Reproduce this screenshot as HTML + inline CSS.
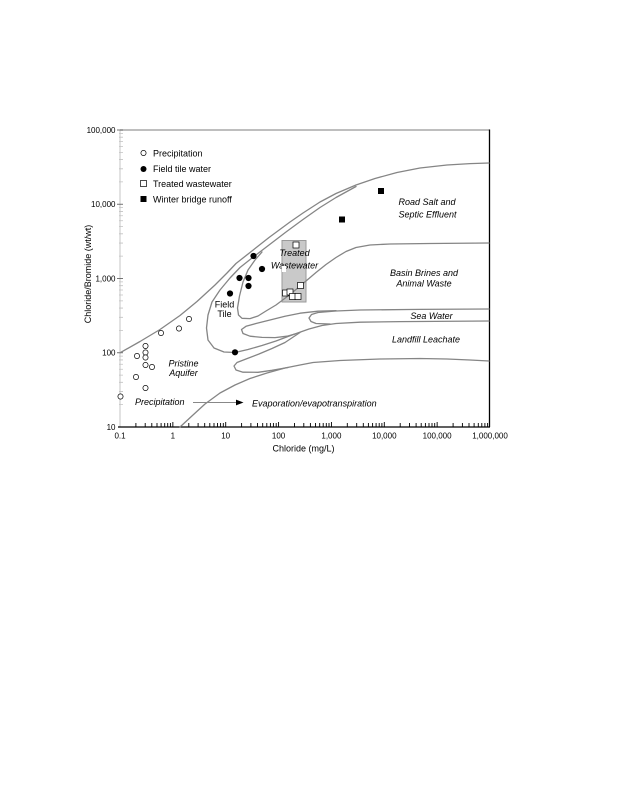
<!DOCTYPE html>
<html><head><meta charset="utf-8"><style>
html,body{margin:0;padding:0;background:#fff;}
svg{display:block;}
text{font-family:"Liberation Sans",Arial,sans-serif;fill:#000;}
.it{font-style:italic;}
</style></head><body>
<svg width="617" height="800" viewBox="0 0 617 800" xmlns="http://www.w3.org/2000/svg">
<rect width="617" height="800" fill="#fff"/>
<!-- frame -->
<line x1="120" y1="130" x2="489.5" y2="130" stroke="#a8a8a8" stroke-width="1.6"/>
<line x1="489.5" y1="129.5" x2="489.5" y2="427" stroke="#000" stroke-width="1.3"/>
<line x1="120" y1="130" x2="120" y2="427" stroke="#c4c4c4" stroke-width="1"/>
<line x1="118" y1="427" x2="490" y2="427" stroke="#000" stroke-width="1.3"/>
<!-- left ticks -->
<g stroke="#666" stroke-width="0.9">
<line x1="117" y1="130" x2="123" y2="130"/><line x1="117" y1="204.25" x2="123" y2="204.25"/><line x1="117" y1="278.5" x2="123" y2="278.5"/><line x1="117" y1="352.75" x2="123" y2="352.75"/>
</g>
<g stroke="#c2c2c2" stroke-width="0.8">
<path d="M119 404.65h4M119 391.57h4M119 382.3h4M119 375.1h4M119 369.22h4M119 364.25h4M119 359.95h4M119 356.15h4
M119 330.4h4M119 317.32h4M119 308.05h4M119 300.85h4M119 294.97h4M119 290h4M119 285.7h4M119 281.9h4
M119 256.15h4M119 243.07h4M119 233.8h4M119 226.6h4M119 220.72h4M119 215.75h4M119 211.45h4M119 207.65h4
M119 181.9h4M119 168.82h4M119 159.55h4M119 152.35h4M119 146.47h4M119 141.5h4M119 137.2h4M119 133.4h4"/>
</g>
<!-- bottom ticks -->
<g stroke="#000" stroke-width="0.9">
<path d="M172.86 427v-5M225.71 427v-5M278.57 427v-5M331.43 427v-5M384.29 427v-5M437.14 427v-5"/>
<path d="M135.9 427v-4M145.2 427v-4M151.8 427v-4M157 427v-4M161.1 427v-4M164.7 427v-4M167.7 427v-4M170.4 427v-4
M188.8 427v-4M198.1 427v-4M204.7 427v-4M209.8 427v-4M214 427v-4M217.5 427v-4M220.6 427v-4M223.3 427v-4
M241.6 427v-4M250.9 427v-4M257.5 427v-4M262.7 427v-4M266.8 427v-4M270.4 427v-4M273.4 427v-4M276.2 427v-4
M294.5 427v-4M303.8 427v-4M310.4 427v-4M315.5 427v-4M319.7 427v-4M323.2 427v-4M326.3 427v-4M329 427v-4
M347.3 427v-4M356.7 427v-4M363.3 427v-4M368.4 427v-4M372.6 427v-4M376.1 427v-4M379.2 427v-4M381.9 427v-4
M400.2 427v-4M409.5 427v-4M416.1 427v-4M421.2 427v-4M425.4 427v-4M429 427v-4M432 427v-4M434.7 427v-4
M453.1 427v-4M462.4 427v-4M469 427v-4M474.1 427v-4M478.3 427v-4M481.8 427v-4M484.9 427v-4M487.6 427v-4"/>
</g>
<!-- y tick labels -->
<g font-size="8" text-anchor="end">
<text x="115.5" y="133">100,000</text>
<text x="115.5" y="207.2">10,000</text>
<text x="115.5" y="281.4">1,000</text>
<text x="115.5" y="355.7">100</text>
<text x="115.5" y="430">10</text>
</g>
<!-- x tick labels -->
<g font-size="8" text-anchor="middle">
<text x="120" y="438.5">0.1</text>
<text x="172.9" y="438.5">1</text>
<text x="225.7" y="438.5">10</text>
<text x="278.6" y="438.5">100</text>
<text x="331.4" y="438.5">1,000</text>
<text x="384.3" y="438.5">10,000</text>
<text x="437.1" y="438.5">100,000</text>
<text x="490" y="438.5">1,000,000</text>
</g>
<text x="303.5" y="451.6" font-size="9" text-anchor="middle">Chloride (mg/L)</text>
<text transform="translate(91,274) rotate(-90)" font-size="9" text-anchor="middle">Chloride/Bromide (wt/wt)</text>

<!-- treated wastewater box -->
<rect x="282" y="240.5" width="24" height="61.5" fill="#c9c9c9" stroke="#9a9a9a" stroke-width="1"/>

<!-- curves -->
<g fill="none" stroke="#858585" stroke-width="1.3" stroke-linejoin="round" stroke-linecap="round">
<polyline points="120,352.8 140,341.5 160,329.5 180,315.5 197,301.5 215,285 227,273 236,263.5 250,252.5 269,237.5 290,222 303,213 320,202 336,193.5 356,185 375,178.5 397,172.5 420,168 447,165 470,163.6 489,163"/>
<polyline points="356,186.5 336,197.5 320,207.5 303,219.5 286,232 269,245 252,258 240,267.5 230,278 220,290 212,302 208,315 206.5,328 208,340 214,348 224,352 235,352.5 248,349.5 262,345.5 276,341 292,335 309,329 322,325.5 336,323.5 360,322.2 400,321.6 489,321"/>
<polyline points="262,252 255,260 248,270 243,282 239.5,296 237.5,308 238.5,315 242,318.3 250,318.6 258,316 266,311 276,305 286,297.5 296,289.5 306,281 316,272.5 326,264.5 336,257.5 346,251.5 356,247.5 370,245 390,244 430,243.5 489,243"/>
<polyline points="489,309 420,309.4 360,310 336,311 318,312.5 311.5,314.5 309,318 311,321.5 316,323.5 330,324"/>
<polyline points="336,310.6 318,311.2 300,313.2 285,316.2 270,320 256,323.5 246,326.3 241.5,329.5 243,333.5 250,336.2 262,337.4 275,337.6 287,336.2 295,334"/>
<polyline points="300,332.5 285,342.5 272,348.5 259,354 246,359 237,362.5 234,366 236,370 243,372.2 258,372.3 272,370.3 288,367.5"/>
<polyline points="180,427 193,415 205,404 220,393 235,385 250,378.5 267,373 285,368 300,365 313,362.5 340,360.5 380,359 420,358.5 447,359 470,360 489,361"/>
</g>

<!-- arrow -->
<line x1="193" y1="402.5" x2="237" y2="402.5" stroke="#888" stroke-width="1"/>
<polygon points="236,399.6 243.5,402.5 236,405.4" fill="#000"/>

<!-- region labels -->
<g font-size="9">
<text class="it" x="427" y="205" text-anchor="middle">Road Salt and</text>
<text class="it" x="427.5" y="217.3" text-anchor="middle">Septic Effluent</text>
<text class="it" x="294.5" y="256.2" text-anchor="middle">Treated</text>
<text class="it" x="294.5" y="268.5" text-anchor="middle">Wastewater</text>
<text class="it" x="424" y="276" text-anchor="middle">Basin Brines and</text>
<text class="it" x="424" y="286.6" text-anchor="middle">Animal Waste</text>
<text class="it" x="431.5" y="319" text-anchor="middle">Sea Water</text>
<text class="it" x="426" y="342.3" text-anchor="middle">Landfill Leachate</text>
<text class="it" x="183.5" y="366.6" text-anchor="middle">Pristine</text>
<text class="it" x="183.5" y="375.8" text-anchor="middle">Aquifer</text>
<text class="it" x="135" y="405">Precipitation</text>
<text class="it" x="252" y="406.3">Evaporation/evapotranspiration</text>
</g>
<text x="224.5" y="307.3" font-size="9" text-anchor="middle">Field</text>
<text x="224.5" y="316.8" font-size="9" text-anchor="middle">Tile</text>

<!-- legend -->
<circle cx="143.5" cy="153" r="2.6" fill="#fff" stroke="#000" stroke-width="0.7"/>
<circle cx="143.5" cy="169" r="3" fill="#000"/>
<rect x="140.5" y="180.5" width="6" height="6" fill="#fff" stroke="#000" stroke-width="0.7"/>
<rect x="140.5" y="196" width="6" height="6" fill="#000"/>
<g font-size="9">
<text x="153" y="156.3">Precipitation</text>
<text x="153" y="172">Field tile water</text>
<text x="153" y="187">Treated wastewater</text>
<text x="153" y="202.3">Winter bridge runoff</text>
</g>

<!-- precipitation points -->
<g fill="#fff" stroke="#000" stroke-width="0.7">
<circle cx="120.5" cy="396.5" r="2.6"/>
<circle cx="137" cy="356" r="2.6"/>
<circle cx="136" cy="377" r="2.6"/>
<circle cx="145.5" cy="346" r="2.6"/>
<circle cx="145.5" cy="352.5" r="2.6"/>
<circle cx="145.5" cy="357.5" r="2.6"/>
<circle cx="145.5" cy="365" r="2.6"/>
<circle cx="145.5" cy="388" r="2.6"/>
<circle cx="152" cy="367" r="2.6"/>
<circle cx="161" cy="333" r="2.6"/>
<circle cx="179" cy="328.5" r="2.6"/>
<circle cx="189" cy="319" r="2.6"/>
</g>
<!-- field tile points -->
<g fill="#000">
<circle cx="230" cy="293.5" r="3.1"/>
<circle cx="239.5" cy="278" r="3.1"/>
<circle cx="248.5" cy="278" r="3.1"/>
<circle cx="248.5" cy="286" r="3.1"/>
<circle cx="253.5" cy="256" r="3.1"/>
<circle cx="262" cy="269" r="3.1"/>
<circle cx="235" cy="352.3" r="3.1"/>
</g>
<!-- treated wastewater points -->
<rect x="282" y="266" width="4" height="6" fill="#fff"/>
<g fill="#fff" stroke="#000" stroke-width="0.7">
<rect x="293" y="242" width="6" height="6"/>
<rect x="297.5" y="282.5" width="6" height="6"/>
<rect x="282.5" y="290" width="6" height="6"/>
<rect x="287" y="289" width="6" height="6"/>
<rect x="289.5" y="293.5" width="6" height="6"/>
<rect x="295" y="293.5" width="6" height="6"/>
</g>
<!-- winter bridge runoff -->
<rect x="378" y="188" width="6" height="6" fill="#000"/>
<rect x="339" y="216.5" width="6" height="6" fill="#000"/>
</svg>
</body></html>
